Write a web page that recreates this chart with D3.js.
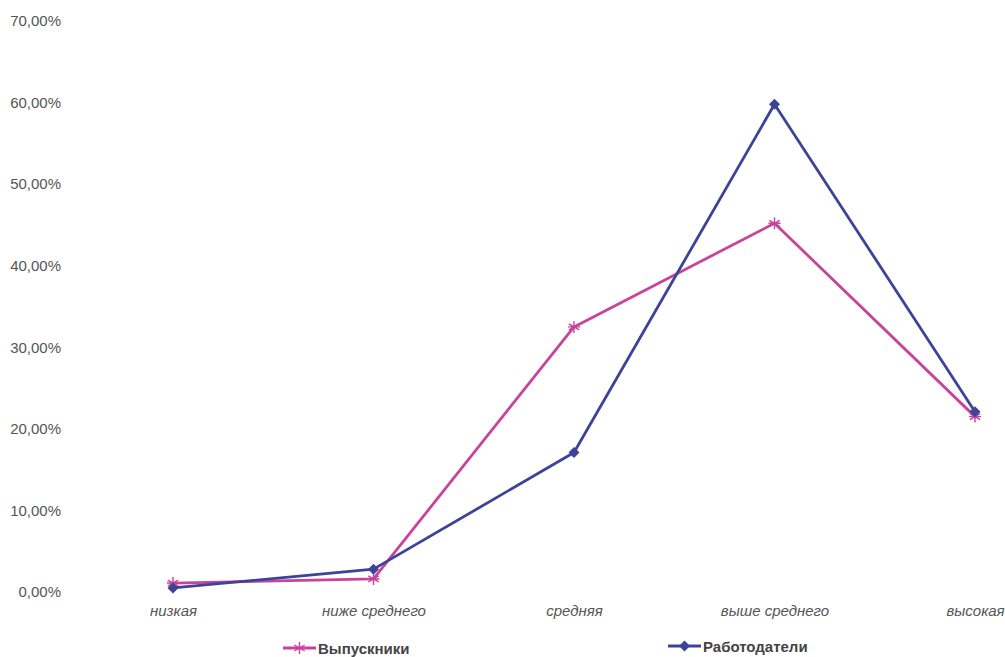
<!DOCTYPE html>
<html><head><meta charset="utf-8">
<script src="https://cdn.jsdelivr.net/npm/d3@7"></script>
<style>
html,body{margin:0;padding:0;background:#fff;overflow:hidden;}
svg{display:block;}
</style></head>
<body>
<svg id="chart" width="1005" height="657"></svg>
<script>
const categories = ["низкая", "ниже среднего", "средняя", "выше среднего", "высокая"];
const graduates = [1.1, 1.6, 32.5, 45.2, 21.5];
const employers = [0.5, 2.8, 17.1, 59.8, 22.1];
const yTicks = [0, 10, 20, 30, 40, 50, 60, 70];
const seriesNames = ["Выпускники", "Работодатели"];

const svg = d3.select("#chart");
const x = d3.scalePoint().domain(categories).range([173, 975]);
const y = d3.scaleLinear().domain([0, 70]).range([592, 21]);
const fmt = v => d3.format(".2f")(v).replace(".", ",") + "%";

// Y axis labels
const yAxis = d3.axisLeft(y).tickValues(yTicks).tickFormat(fmt).tickSize(0).tickPadding(0);
const gy = svg.append("g").attr("transform", "translate(61,0)").call(yAxis);
gy.select(".domain").remove();
gy.selectAll("text").attr("font-family", "Liberation Sans, Arial, sans-serif")
  .attr("font-size", 15).attr("fill", "#555");

// X axis labels
const xAxis = d3.axisBottom(x).tickSize(0).tickPadding(0);
const gx = svg.append("g").attr("transform", "translate(0,605)").call(xAxis);
gx.select(".domain").remove();
gx.selectAll("text").attr("font-family", "Liberation Sans, Arial, sans-serif")
  .attr("font-size", 15).attr("font-style", "italic").attr("fill", "#555");

const magenta = "#c8449c";
const blue = "#3d4396";
const line = d3.line().x((d, i) => x(categories[i])).y(d => y(d));

function star(g, cx, cy, r, color) {
  const path = d3.path();
  [0, 60, 120].forEach(a => {
    const rad = a * Math.PI / 180;
    path.moveTo(cx - r * Math.sin(rad), cy - r * Math.cos(rad));
    path.lineTo(cx + r * Math.sin(rad), cy + r * Math.cos(rad));
  });
  path.moveTo(cx - r, cy); path.lineTo(cx + r, cy);
  g.append("path").attr("d", path.toString()).attr("stroke", color).attr("stroke-width", 1.4).attr("fill", "none");
}
function diamond(g, cx, cy, r, color) {
  g.append("path").attr("d", `M${cx},${cy - r}L${cx + r},${cy}L${cx},${cy + r}L${cx - r},${cy}Z`).attr("fill", color);
}

// Graduates series
svg.append("path").datum(graduates).attr("d", line).attr("fill", "none")
  .attr("stroke", magenta).attr("stroke-width", 2.8).attr("stroke-linejoin", "round");
const gG = svg.append("g");
graduates.forEach((v, i) => star(gG, x(categories[i]), y(v), 6, magenta));

// Employers series
svg.append("path").datum(employers).attr("d", line).attr("fill", "none")
  .attr("stroke", blue).attr("stroke-width", 2.8).attr("stroke-linejoin", "round");
const gE = svg.append("g");
employers.forEach((v, i) => diamond(gE, x(categories[i]), y(v), 5.5, blue));

// Legend
const legend = [
  {name: seriesNames[0], color: magenta, marker: "star", x: 283, y: 648},
  {name: seriesNames[1], color: blue, marker: "diamond", x: 668, y: 646}
];
legend.forEach(l => {
  const g = svg.append("g");
  g.append("line").attr("x1", l.x).attr("x2", l.x + 33).attr("y1", l.y).attr("y2", l.y)
    .attr("stroke", l.color).attr("stroke-width", 2.8);
  if (l.marker === "star") star(g, l.x + 16.5, l.y, 6, l.color);
  else diamond(g, l.x + 16.5, l.y, 5.5, l.color);
  g.append("text").attr("x", l.x + 35).attr("y", l.y + 6).text(l.name)
    .attr("font-family", "Liberation Sans, Arial, sans-serif").attr("font-size", 15)
    .attr("font-weight", "bold").attr("fill", "#444");
});
</script>
</body></html>
